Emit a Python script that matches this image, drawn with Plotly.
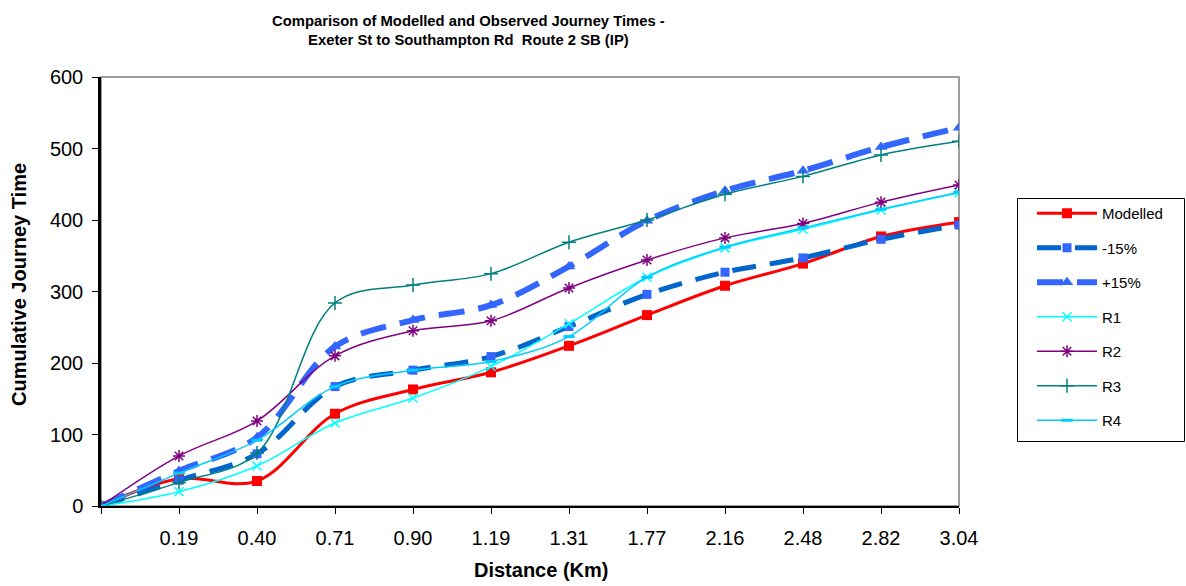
import plotly.graph_objects as go

# Distance categories (km) along the route; first point is the start
categories = ["0.00", "0.19", "0.40", "0.71", "0.90", "1.19", "1.31",
              "1.77", "2.16", "2.48", "2.82", "3.04"]
tick_labels = ["", "0.19", "0.40", "0.71", "0.90", "1.19", "1.31",
               "1.77", "2.16", "2.48", "2.82", "3.04"]

# Cumulative journey times (s)
modelled = [0, 38, 35, 129, 163, 187, 224, 267, 308, 339, 377, 397]
minus_15 = [0, 36, 73, 167, 190, 209, 251, 296, 327, 347, 373, 393]
plus_15 = [0, 49, 96, 223, 260, 281, 335, 399, 441, 469, 502, 529]
run_1 = [0, 20, 56, 116, 151, 195, 255, 320, 361, 387, 414, 438]
run_2 = [0, 70, 119, 210, 245, 259, 305, 344, 375, 395, 425, 449]
run_3 = [0, 33, 74, 284, 309, 325, 369, 400, 436, 461, 491, 510]
run_4 = [0, 46, 92, 167, 190, 202, 237, 320, 362, 389, 415, 439]

y_ticks = [0, 100, 200, 300, 400, 500, 600]

FONT = "Liberation Sans, Arial, sans-serif"

# Plot area in pixels, used to place the free-standing text and legend frame
PX_L, PX_R, PX_T, PX_B = 101, 959, 77, 506


def px_x(px):
    return (px - PX_L) / (PX_R - PX_L)


def px_y(py):
    return (PX_B - py) / (PX_B - PX_T)


fig = go.Figure()


def add_series(name, y, color, width, symbol, msize, mcolor=None,
               dash="solid", mline=0):
    fig.add_trace(go.Scatter(
        x=categories, y=y, name=name, mode="lines+markers",
        legendgroup=name,
        line=dict(color=color, width=width, dash=dash, shape="spline",
                  smoothing=1.0),
        marker=dict(symbol=symbol, size=msize, color=mcolor or color,
                    line=dict(color=mcolor or color, width=mline)),
    ))


add_series("Modelled", modelled, "#FF0000", 3, "square", 10)
add_series("-15%", minus_15, "#0066CC", 5, "square", 9, mcolor="#3366FF",
           dash="24px,14px")
add_series("+15%", plus_15, "#3366FF", 6, "triangle-up", 11,
           dash="26px,14px")
add_series("R1", run_1, "#00FFFF", 1.5, "x-thin-open", 9, mline=1.5)
add_series("R2", run_2, "#800080", 1.5, "asterisk-open", 10, mline=1.5)
add_series("R3", run_3, "#008080", 1.5, "cross-thin-open", 10, mline=1.5)
add_series("R4", run_4, "#00CCFF", 1.5, "line-ew-open", 8, mline=3)

# Plot-area frame (grey) drawn under the black axis lines
fig.add_shape(type="rect", xref="paper", yref="paper", x0=0, y0=0, x1=1, y1=1,
              line=dict(color="#808080", width=1.5), layer="below")

# Legend frame
fig.add_shape(type="rect", xref="paper", yref="paper",
              x0=px_x(1017.5), x1=px_x(1184.5), y0=px_y(441.5), y1=px_y(198.5),
              line=dict(color="black", width=1), fillcolor="rgba(0,0,0,0)")

fig.update_xaxes(
    type="category", categoryorder="array", categoryarray=categories,
    range=[0, len(categories) - 1],
    tickmode="array", tickvals=categories, ticktext=tick_labels,
    ticks="outside", ticklen=6, tickwidth=1, tickcolor="black",
    ticklabelstandoff=7,
    showline=True, linecolor="black", linewidth=2,
    showgrid=False, zeroline=False,
    tickfont=dict(family=FONT, size=20, color="black"),
)
fig.update_yaxes(
    range=[0, 600], tickmode="array", tickvals=y_ticks,
    ticks="outside", ticklen=6, tickwidth=1, tickcolor="black",
    ticklabelstandoff=5,
    showline=True, linecolor="black", linewidth=2.5,
    showgrid=False, zeroline=False,
    tickfont=dict(family=FONT, size=20, color="black"),
)

fig.add_annotation(
    text="<b>Comparison of Modelled and Observed Journey Times -<br>"
         "Exeter St to Southampton Rd  Route 2 SB (IP)</b>",
    xref="paper", yref="paper", x=px_x(468), y=px_y(30),
    xanchor="center", yanchor="middle", showarrow=False, align="center",
    font=dict(family=FONT, size=14.8, color="black"),
)
fig.add_annotation(
    text="<b>Distance (Km)</b>", xref="paper", yref="paper",
    x=px_x(541), y=px_y(570),
    xanchor="center", yanchor="middle", showarrow=False,
    font=dict(family=FONT, size=20, color="black"),
)
fig.add_annotation(
    text="<b>Cumulative Journey Time</b>", xref="paper", yref="paper",
    x=px_x(19), y=px_y(285), textangle=-90,
    xanchor="center", yanchor="middle", showarrow=False,
    font=dict(family=FONT, size=20, color="black"),
)

fig.update_layout(
    width=1186, height=586,
    margin=dict(l=PX_L, r=1186 - PX_R, t=PX_T, b=586 - PX_B),
    paper_bgcolor="white", plot_bgcolor="white",
    showlegend=True,
    legend=dict(
        x=px_x(1032), y=px_y(197),
        xanchor="left", yanchor="top",
        borderwidth=0, bgcolor="rgba(0,0,0,0)",
        font=dict(family=FONT, size=15, color="black"),
        tracegroupgap=12, traceorder="grouped",
        itemwidth=60,
    ),
)

fig.write_html("out.html")
